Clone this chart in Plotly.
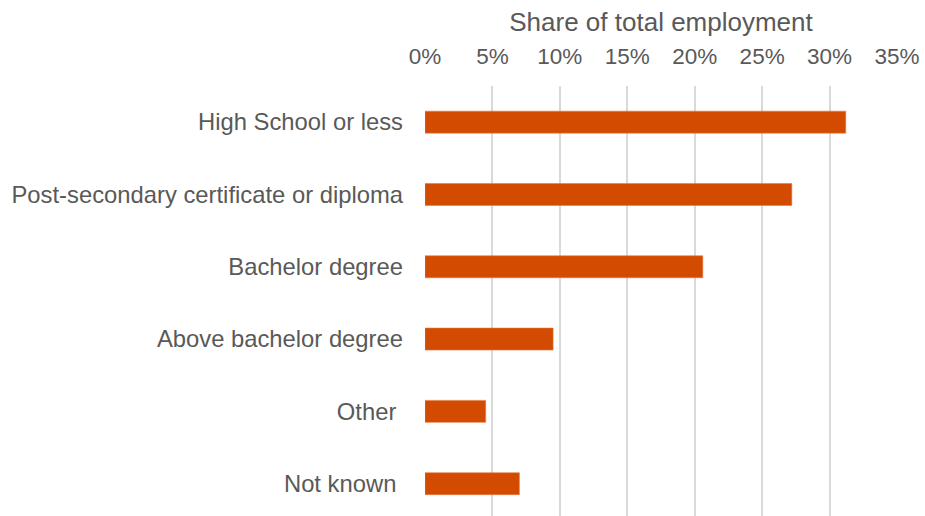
import plotly.graph_objects as go

# Share of total employment by education level (percent)
categories = [
    "High School or less",
    "Post-secondary certificate or diploma",
    "Bachelor degree",
    "Above bachelor degree",
    "Other\u00a0",
    "Not known\u00a0",
]
shares = [31.2, 27.2, 20.6, 9.5, 4.5, 7.0]
tick_values = [0, 5, 10, 15, 20, 25, 30, 35]
tick_labels = [f"{v}%" for v in tick_values]

FONT = "Liberation Sans, Arial, sans-serif"
GREY = "#595959"

fig = go.Figure(
    go.Bar(
        x=shares,
        y=categories,
        orientation="h",
        width=0.304,
        marker=dict(color="#D24B00", line=dict(color="#E8793E", width=0.6)),
        hoverinfo="x+y",
    )
)

fig.update_layout(
    width=925,
    height=516,
    margin=dict(l=424.5, r=28.3, t=86, b=0, pad=0),
    paper_bgcolor="white",
    plot_bgcolor="white",
    showlegend=False,
    font=dict(family=FONT, color=GREY),
    xaxis=dict(
        side="top",
        range=[0, 35],
        tickvals=tick_values,
        ticktext=tick_labels,
        tickfont=dict(size=22.5, color=GREY),
        showgrid=True,
        gridcolor="#D9D9D9",
        gridwidth=1.5,
        zeroline=False,
        showline=False,
        ticks="",
        ticklabelstandoff=17,
        title=dict(
            text="Share of total employment",
            font=dict(size=26, color=GREY),
            standoff=4,
        ),
    ),
    yaxis=dict(
        type="category",
        categoryorder="array",
        categoryarray=categories,
        range=[5.447, -0.5],
        tickfont=dict(size=23.8, color=GREY),
        showgrid=False,
        zeroline=False,
        showline=False,
        ticks="",
        ticklabelstandoff=21,
    ),
)

fig.write_html("out.html")
